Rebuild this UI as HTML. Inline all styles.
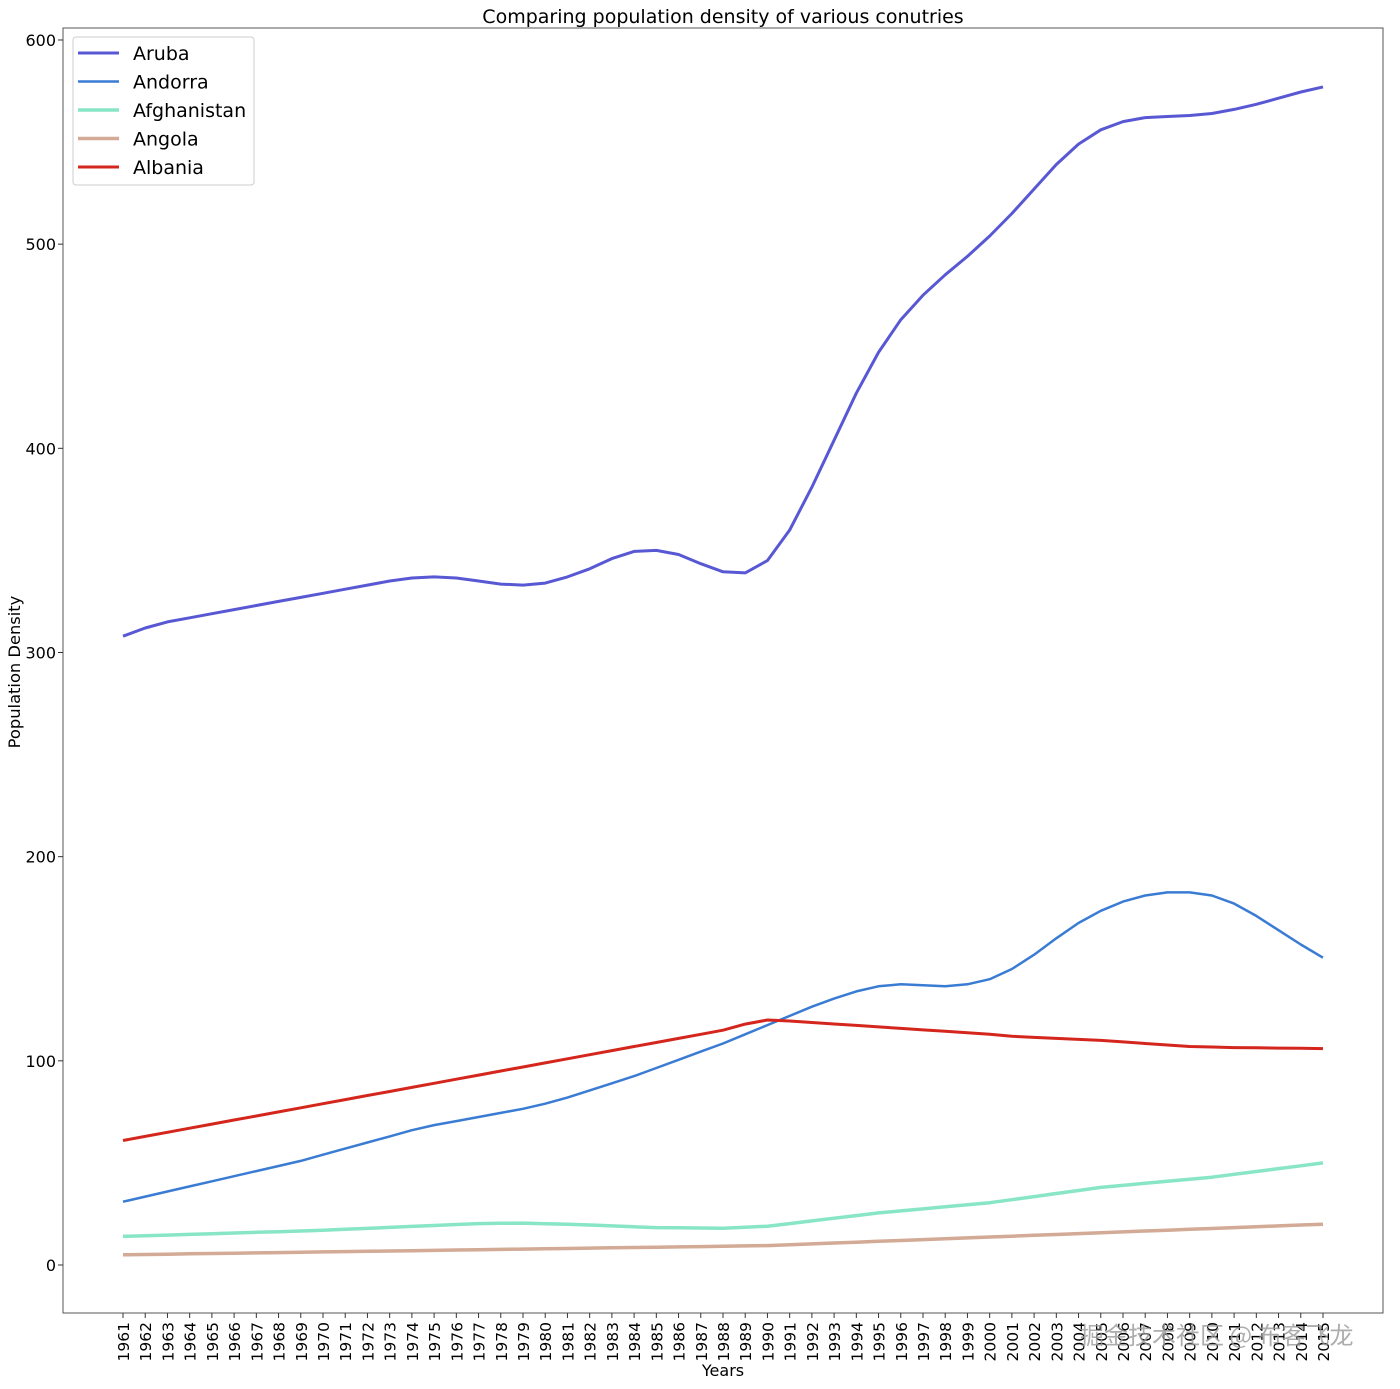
<!DOCTYPE html>
<html><head><meta charset="utf-8"><style>
body{margin:0;background:#fff;}
svg text{font-family:"DejaVu Sans","Liberation Sans",sans-serif;fill:#000;}
</style></head><body>
<svg id="s" width="1400" height="1384" xmlns="http://www.w3.org/2000/svg"></svg>
<script>
const s=document.getElementById('s');
const X0=123,DX=22.222,Y0=1265,SY=2.0417;
const px=i=>X0+i*DX, py=v=>Y0-v*SY;
let h='';
h+='<rect x="63" y="28" width="1320" height="1285" fill="none" stroke="#555" stroke-width="1"/>';
h+='<text x="723" y="23" font-size="19" text-anchor="middle">Comparing population density of various conutries</text>';
h+='<text x="723" y="1376" font-size="16" text-anchor="middle">Years</text>';
h+='<text transform="translate(20,672) rotate(-90)" font-size="16.3" text-anchor="middle">Population Density</text>';
for(let v=0;v<=600;v+=100){const y=py(v);h+=`<line x1="58" x2="63" y1="${y}" y2="${y}" stroke="#333"/><text x="56" y="${y+6}" font-size="16" text-anchor="end">${v}</text>`;}
for(let i=0;i<55;i++){const x=px(i);h+=`<line x1="${x}" x2="${x}" y1="1313" y2="1318" stroke="#333"/><text transform="translate(${x+6},1322) rotate(-90)" font-size="15.5" text-anchor="end">${1961+i}</text>`;}
function interp(k){const out=[];const ys=Object.keys(k).map(Number).sort((a,b)=>a-b);for(let y=1961;y<=2015;y++){let j=0;while(j<ys.length-1&&ys[j+1]<y)j++;const a=ys[j],b=ys[Math.min(j+1,ys.length-1)];out.push(a==b?k[a]:k[a]+(k[b]-k[a])*(y-a)/(b-a));}return out;}
const aruba=[308,312,315,317,319,321,323,325,327,329,331,333,335,336.5,337,336.5,335,333.5,333,334,337,341,346,349.5,350,348,343.5,339.5,339,345,360,381,404,427,447,463,475,485,494,504,515,527,539,549,556,560,562,562.5,563,564,566,568.5,571.5,574.5,577];
const andorra=[31,33.5,36,38.5,41,43.5,46,48.5,51,54,57,60,63,66,68.5,70.5,72.5,74.5,76.5,79,82,85.5,89,92.5,96.5,100.5,104.5,108.5,113,117.5,122,126.5,130.5,134,136.5,137.5,137,136.5,137.5,140,145,152,160,167.5,173.5,178,181,182.5,182.5,181,177,171,164,157,150.5];
const albania=interp({1961:61,1988:115,1989:118,1990:120,1991:119.5,2000:113,2001:112,2005:110,2009:107,2011:106.5,2015:106});
const afg=interp({1961:14,1970:17,1977:20.3,1979:20.5,1981:20,1985:18.3,1988:18,1990:19,1995:25.5,2000:30.5,2005:38,2010:43,2015:50});
const ang=interp({1961:5,1990:9.5,2015:20});
function line(d,c,w){return `<polyline fill="none" stroke="${c}" stroke-width="${w}" stroke-linejoin="round" points="${d.map((v,i)=>px(i).toFixed(1)+','+py(v).toFixed(1)).join(' ')}"/>`;}
h+=line(aruba,'#5858d4',3)+line(andorra,'#3a7cd4',2.5)+line(afg,'#88e6c6',3.5)+line(ang,'#d2aa96',3.5)+line(albania,'#d4261c',3);
h+='<rect x="73" y="37" width="181" height="148" rx="3" fill="#fff" stroke="#ccc"/>';
const L=[['Aruba','#5858d4',3],['Andorra','#3a7cd4',2.5],['Afghanistan','#88e6c6',3.5],['Angola','#d2aa96',3.5],['Albania','#d4261c',3]];
L.forEach((l,i)=>{const y=53+i*28.5;h+=`<line x1="78" x2="119" y1="${y}" y2="${y}" stroke="${l[1]}" stroke-width="${l[2]}"/><text x="133" y="${y+7}" font-size="19">${l[0]}</text>`;});
h+='<text x="1080" y="1344" font-size="24" style="fill:#999;font-family:\'Noto Sans CJK SC\',sans-serif" opacity="0.8">掘金技术社区 @ 布客飞龙</text>';
s.innerHTML=h;
</script>
</body></html>
